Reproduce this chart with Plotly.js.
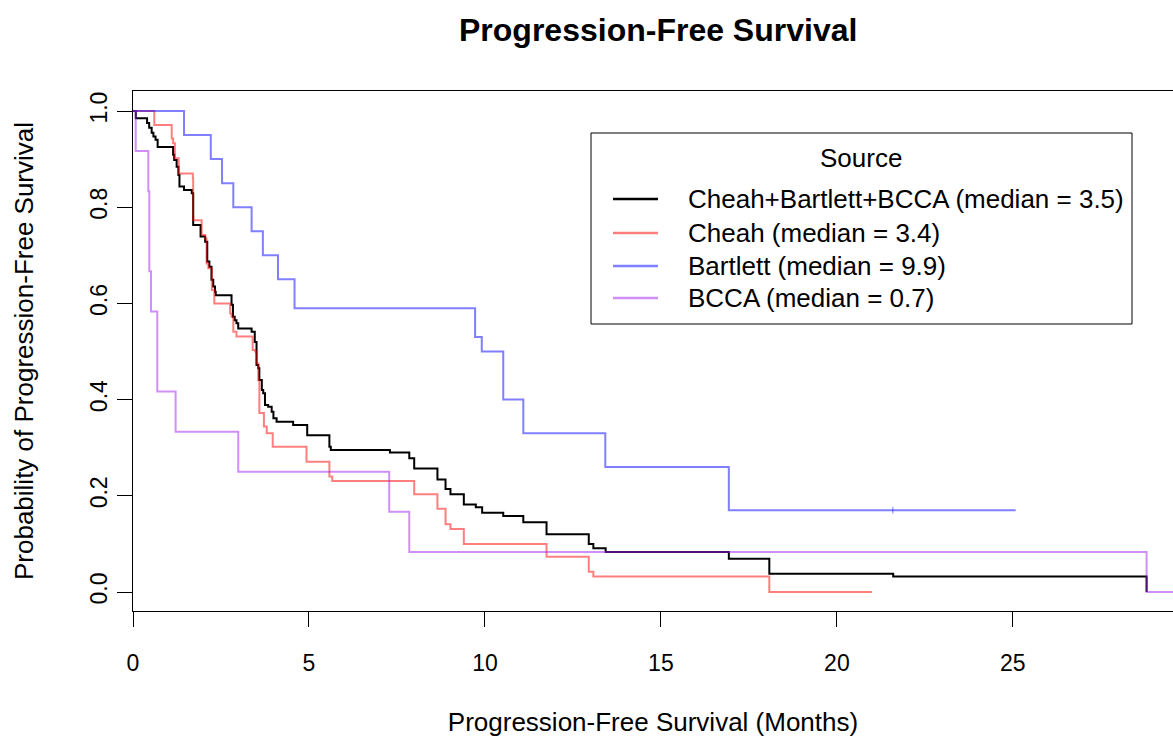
<!DOCTYPE html>
<html>
<head>
<meta charset="utf-8">
<script src="https://cdn.plot.ly/plotly-3.0.1.min.js"></script>
<style>html,body{margin:0;padding:0;background:#fff;}#chart{width:1173px;height:737px;}</style>
</head>
<body>
<div id="chart"></div>
<script>
// Kaplan-Meier step data (time in months, survival probability after each step)
const combinedT = [0, 0.08, 0.40, 0.46, 0.53, 0.58, 0.64, 0.70, 1.14, 1.17, 1.24, 1.29, 1.32, 1.45, 1.67, 1.71, 1.92, 2.05, 2.11, 2.17, 2.23, 2.28, 2.33, 2.35, 2.80, 2.84, 2.89, 2.94, 2.99, 3.37, 3.46, 3.51, 3.56, 3.59, 3.66, 3.70, 3.75, 3.84, 3.94, 3.99, 4.08, 4.55, 4.95, 5.58, 5.62, 7.30, 7.85, 7.99, 8.65, 8.88, 9.02, 9.40, 9.74, 9.92, 10.52, 11.09, 11.75, 12.95, 13.08, 13.43, 16.93, 18.08, 21.60, 28.80];
const combinedS = [1, 0.985, 0.975, 0.965, 0.955, 0.947, 0.94, 0.925, 0.909, 0.898, 0.884, 0.867, 0.843, 0.836, 0.829, 0.763, 0.739, 0.728, 0.687, 0.676, 0.649, 0.635, 0.624, 0.617, 0.597, 0.572, 0.565, 0.559, 0.548, 0.541, 0.520, 0.472, 0.465, 0.441, 0.420, 0.413, 0.389, 0.385, 0.375, 0.361, 0.354, 0.347, 0.326, 0.302, 0.295, 0.290, 0.278, 0.257, 0.234, 0.214, 0.203, 0.182, 0.176, 0.165, 0.158, 0.145, 0.120, 0.100, 0.091, 0.083, 0.069, 0.038, 0.032, 0];

const cheahT = [0, 0.605, 1.10, 1.14, 1.19, 1.30, 1.70, 1.71, 1.95, 2.05, 2.09, 2.14, 2.24, 2.31, 2.76, 2.80, 2.85, 2.94, 3.40, 3.47, 3.51, 3.56, 3.59, 3.72, 3.80, 3.97, 4.93, 5.58, 5.66, 7.99, 8.65, 8.88, 9.02, 9.40, 11.75, 12.95, 13.08, 18.08, 21.0];
const cheahS = [1, 0.971, 0.943, 0.933, 0.902, 0.870, 0.860, 0.773, 0.742, 0.735, 0.683, 0.673, 0.628, 0.600, 0.579, 0.572, 0.541, 0.531, 0.503, 0.500, 0.475, 0.441, 0.372, 0.344, 0.330, 0.302, 0.271, 0.240, 0.231, 0.203, 0.173, 0.141, 0.131, 0.100, 0.0735, 0.042, 0.032, 0, 0];

const bartlettT = [0, 1.45, 2.21, 2.53, 2.85, 3.37, 3.69, 4.12, 4.59, 9.72, 9.91, 10.52, 11.09, 13.42, 16.93, 25.08];
const bartlettS = [1, 0.95, 0.90, 0.85, 0.80, 0.75, 0.70, 0.65, 0.59, 0.53, 0.50, 0.40, 0.33, 0.26, 0.17, 0.17];
const bartlettCensorT = [21.59];
const bartlettCensorS = [0.17];

const bccaT = [0, 0.077, 0.435, 0.463, 0.511, 0.69, 1.21, 2.99, 7.28, 7.85, 28.80, 30];
const bccaS = [1, 0.917, 0.833, 0.667, 0.583, 0.417, 0.333, 0.25, 0.167, 0.083, 0, 0];

const seriesNames = ['Cheah+Bartlett+BCCA (median = 3.5)', 'Cheah (median = 3.4)', 'Bartlett (median = 9.9)', 'BCCA (median = 0.7)'];
const legendTitle = 'Source';
const xTicks = [0, 5, 10, 15, 20, 25];
const yTicks = [0, 0.2, 0.4, 0.6, 0.8, 1.0];
const yTickText = ['0.0', '0.2', '0.4', '0.6', '0.8', '1.0'];

const FONT = 'Liberation Sans, Arial, sans-serif';
const colors = ['#000000', 'rgba(255,0,0,0.5)', 'rgba(0,0,255,0.5)', 'rgba(160,32,240,0.5)'];

const traces = [
  {x: combinedT, y: combinedS, name: seriesNames[0], mode: 'lines', line: {shape: 'hv', color: colors[0], width: 2}},
  {x: cheahT, y: cheahS, name: seriesNames[1], mode: 'lines', line: {shape: 'hv', color: colors[1], width: 2}},
  {x: bartlettT, y: bartlettS, name: seriesNames[2], mode: 'lines', line: {shape: 'hv', color: colors[2], width: 2}},
  {x: bccaT, y: bccaS, name: seriesNames[3], mode: 'lines', line: {shape: 'hv', color: colors[3], width: 2}},
  {x: bartlettCensorT, y: bartlettCensorS, mode: 'markers', showlegend: false, hoverinfo: 'skip',
   marker: {symbol: 'line-ns', size: 5, line: {width: 1, color: colors[2]}}}
];

// Legend box drawn in pixel positions (converted to paper coordinates)
const W = 1173, H = 737, ML = 133, MR = 0, MT = 91, MB = 126;
const PW = W - ML - MR, PH = H - MT - MB;
const px = v => (v - ML) / PW;
const py = v => (H - MB - v) / PH;
const legRowY = [199, 233, 266, 298];

const shapes = [
  {type: 'rect', xref: 'paper', yref: 'paper', x0: px(591), x1: px(1132), y0: py(324), y1: py(133),
   line: {color: '#000', width: 1}, fillcolor: '#fff', layer: 'above'}
];
const annotations = [
  {xref: 'paper', yref: 'paper', x: px(861), y: py(158), text: legendTitle, showarrow: false,
   xanchor: 'center', yanchor: 'middle', font: {family: FONT, size: 26, color: '#000'}}
];
seriesNames.forEach((nm, i) => {
  shapes.push({type: 'line', xref: 'paper', yref: 'paper', x0: px(613), x1: px(658), y0: py(legRowY[i]), y1: py(legRowY[i]),
               line: {color: colors[i], width: 2.5}, layer: 'above'});
  annotations.push({xref: 'paper', yref: 'paper', x: px(686), y: py(legRowY[i]), text: nm, showarrow: false,
                    xanchor: 'left', yanchor: 'middle', font: {family: FONT, size: 26, color: '#000'}});
});

const layout = {
  width: W, height: H,
  margin: {l: ML, r: MR, t: MT, b: MB},
  paper_bgcolor: '#fff', plot_bgcolor: '#fff',
  font: {family: FONT, color: '#000', size: 22},
  title: {text: '<b>Progression-Free Survival</b>', font: {family: FONT, size: 32, color: '#000'},
          x: 0.505, xref: 'paper', xanchor: 'center', y: 1 - 30/737, yref: 'container', yanchor: 'middle'},
  xaxis: {
    range: [0, 29.55], tickvals: xTicks, ticktext: xTicks.map(String),
    ticks: 'outside', ticklen: 15, tickwidth: 1, tickcolor: '#000',
    showline: true, linecolor: '#000', linewidth: 1, mirror: true,
    showgrid: false, zeroline: false, automargin: false,
    tickfont: {family: FONT, size: 23, color: '#000'}, ticklabelstandoff: 16,
    title: {text: 'Progression-Free Survival (Months)', font: {family: FONT, size: 26, color: '#000'}, standoff: 42}
  },
  yaxis: {
    range: [-0.0395, 1.0416], tickvals: yTicks, ticktext: yTickText, tickangle: -90,
    ticks: 'outside', ticklen: 15, tickwidth: 1, tickcolor: '#000',
    showline: true, linecolor: '#000', linewidth: 1, mirror: false,
    showgrid: false, zeroline: false, automargin: false,
    tickfont: {family: FONT, size: 23, color: '#000'}, ticklabelstandoff: 1,
    title: {text: 'Probability of Progression-Free Survival', font: {family: FONT, size: 26, color: '#000'}, standoff: 44}
  },
  shapes: shapes,
  annotations: annotations,
  showlegend: false
};

Plotly.newPlot('chart', traces, layout, {displayModeBar: false, staticPlot: true});
</script>
</body>
</html>
